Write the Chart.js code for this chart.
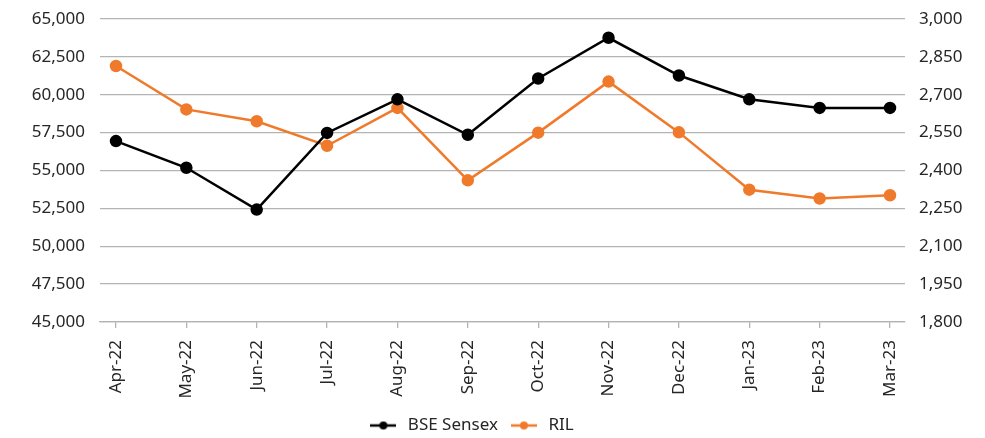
<!DOCTYPE html>
<html>
<head>
<meta charset="utf-8">
<script src="https://cdn.jsdelivr.net/npm/chart.js@4"></script>
<style>
  html, body { margin: 0; padding: 0; background: #fff; }
  #wrap { width: 985px; height: 438px; }
</style>
</head>
<body>
<div id="wrap"><canvas id="chart"></canvas></div>
<script>
const months = ['Apr-22', 'May-22', 'Jun-22', 'Jul-22', 'Aug-22', 'Sep-22',
                'Oct-22', 'Nov-22', 'Dec-22', 'Jan-23', 'Feb-23', 'Mar-23'];
const sensex = [56940, 55180, 52420, 57480, 59700, 57360, 61070, 63760, 61270, 59700, 59130, 59130];
const ril = [2814, 2642, 2595, 2498, 2648, 2361, 2550, 2752, 2551, 2324, 2289, 2302];
const leftTicks = [45000, 47500, 50000, 52500, 55000, 57500, 60000, 62500, 65000];
const rightTicks = [1800, 1950, 2100, 2250, 2400, 2550, 2700, 2850, 3000];

const BLACK = '#000000';
const ORANGE = '#F07A2B';
const TEXT = '#262626';
const GRID = '#b4b4b4';
const FONT = { family: '"Noto Sans", sans-serif', size: 17 };

// legend marker: short line with a dot in the middle
function legendMarker(color) {
    const c = document.createElement('canvas');
    c.width = 26; c.height = 10;
    const g = c.getContext('2d');
    g.strokeStyle = color;
    g.lineWidth = 2.5;
    g.beginPath(); g.moveTo(0, 5); g.lineTo(26, 5); g.stroke();
    g.fillStyle = color;
    g.beginPath(); g.arc(13, 5, 4, 0, Math.PI * 2); g.fill();
    return c;
}
const markers = [legendMarker(BLACK), legendMarker(ORANGE)];

const toPoints = arr => arr.map((v, i) => ({ x: i, y: v }));

// nudge the legend a bit left and down, like the original
const legendShift = {
    id: 'legendShift',
    afterLayout(chart) {
        const lg = chart.legend;
        lg.left -= 22; lg.right -= 22;
        lg.top += 6; lg.bottom += 6;
    }
};

const yFit = w => scale => {
    scale.width = w;
    scale.paddingTop = 0;
    scale.paddingBottom = 0;
};

const ctx = document.getElementById('chart').getContext('2d');
new Chart(ctx, {
    type: 'line',
    data: {
        datasets: [{
            label: 'BSE Sensex',
            data: toPoints(sensex),
            yAxisID: 'y',
            borderColor: BLACK,
            backgroundColor: BLACK,
            borderWidth: 2.5,
            pointRadius: 5,
            pointHoverRadius: 5,
            tension: 0
        }, {
            label: 'RIL',
            data: toPoints(ril),
            yAxisID: 'y2',
            borderColor: ORANGE,
            backgroundColor: ORANGE,
            borderWidth: 2.5,
            pointRadius: 5,
            pointHoverRadius: 5,
            tension: 0
        }]
    },
    plugins: [legendShift],
    options: {
        responsive: true,
        maintainAspectRatio: false,
        animation: false,
        layout: { padding: { top: 19, left: 0, right: 0, bottom: 0 } },
        plugins: {
            tooltip: { enabled: false },
            legend: {
                position: 'bottom',
                labels: {
                    color: TEXT,
                    font: FONT,
                    usePointStyle: true,
                    pointStyleWidth: 32,
                    padding: 10,
                    generateLabels: chart => {
                        const items = Chart.defaults.plugins.legend.labels.generateLabels(chart);
                        items.forEach((it, i) => { it.pointStyle = markers[i]; });
                        return items;
                    }
                }
            }
        },
        scales: {
            x: {
                type: 'linear',
                min: -0.227,
                max: 11.213,
                afterBuildTicks: scale => {
                    scale.ticks = months.map((m, i) => ({ value: i }));
                },
                afterFit: scale => { scale.height = 79; },
                ticks: {
                    color: TEXT,
                    font: FONT,
                    maxRotation: 90,
                    minRotation: 90,
                    padding: 12,
                    autoSkip: false,
                    callback: value => months[value]
                },
                grid: {
                    drawOnChartArea: false,
                    drawTicks: true,
                    tickLength: 6,
                    color: GRID,
                    lineWidth: 1.3
                },
                border: { display: true, color: GRID, width: 1.3 }
            },
            y: {
                position: 'left',
                min: leftTicks[0],
                max: leftTicks[leftTicks.length - 1],
                afterBuildTicks: scale => {
                    scale.ticks = leftTicks.map(v => ({ value: v }));
                },
                afterFit: yFit(100),
                ticks: {
                    color: TEXT,
                    font: FONT,
                    padding: 15,
                    callback: v => v.toLocaleString('en-US')
                },
                grid: { color: GRID, lineWidth: 1.3, drawTicks: false },
                border: { display: false }
            },
            y2: {
                position: 'right',
                min: rightTicks[0],
                max: rightTicks[rightTicks.length - 1],
                afterBuildTicks: scale => {
                    scale.ticks = rightTicks.map(v => ({ value: v }));
                },
                afterFit: yFit(80),
                ticks: {
                    color: TEXT,
                    font: FONT,
                    padding: 14,
                    callback: v => v.toLocaleString('en-US')
                },
                grid: { drawOnChartArea: false, drawTicks: false },
                border: { display: false }
            }
        }
    }
});
</script>
</body>
</html>
